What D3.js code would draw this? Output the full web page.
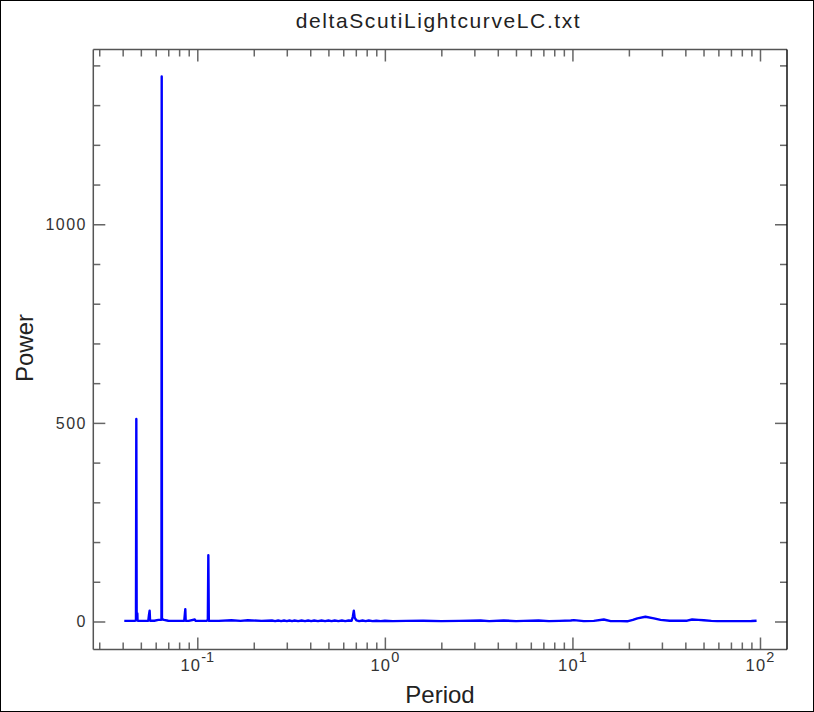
<!DOCTYPE html>
<html>
<head>
<meta charset="utf-8">
<script src="https://cdn.jsdelivr.net/npm/d3@7"></script>
<style>
html,body{margin:0;padding:0;background:#fff;}
svg{display:block;}
text{font-family:"Liberation Sans",Arial,Helvetica,sans-serif;}
</style>
</head>
<body>
<script>
// ---- Data ----
const title = "deltaScutiLightcurveLC.txt";
const xLabel = "Period";
const yLabel = "Power";

const periods = [
  0.0408, 0.0440, 0.0466, 0.0471, 0.0473, 0.0475, 0.0479, 0.0480, 0.0482, 0.0510,
  0.0548, 0.0553, 0.0557, 0.0560, 0.0590, 0.0620, 0.0640, 0.0644, 0.0646, 0.0648, 0.0655, 0.0665, 0.0700, 0.0780,
  0.0852, 0.0858, 0.0863, 0.0867, 0.0900, 0.0970, 0.0980, 0.1000, 0.1120, 0.1138, 0.1145, 0.1152, 0.1300, 0.1520, 0.1700, 0.1860, 0.2200,
  0.2500, 0.2600, 0.2700, 0.2800, 0.2900, 0.3000, 0.3100, 0.3200, 0.3300, 0.3450, 0.3600, 0.3750, 0.3900, 0.4050, 0.4200, 0.4400, 0.4600, 0.4800, 0.5000, 0.5200, 0.5400, 0.5650, 0.5900, 0.6150, 0.6400, 0.6650, 0.6750, 0.6830, 0.6900, 0.7050, 0.7300, 0.7600, 0.7900, 0.8200, 0.8600, 0.9000, 0.9500, 1.0000, 1.1000,
  1.3, 1.6, 2.0, 2.5, 3.24, 3.6, 4.3, 5.0, 5.5, 6.6, 7.5, 8.5, 9.8, 10.18, 11.5, 13.0, 14.7, 16.0, 18.0, 19.6, 21.0, 22.2, 24.5, 27.2, 29.5, 33.0, 37.0, 40.9, 43.5, 47.0, 50.2, 55.0, 59.2, 70.0, 80.0, 90.0, 95.9
];
const powers = [
  1.5, 1.5, 2, 3, 510, 3, 20, 3, 2, 1.5,
  2, 18, 27, 2, 2, 4, 4, 6, 1372, 5, 5, 4, 2, 1.5,
  2, 18, 31, 2, 1.5, 5, 1.5, 1.5, 2, 4, 167, 2, 1.5, 3, 1.5, 3, 1.5,
  2.5, 1, 2.5, 1, 2.5, 1, 2.5, 1, 2.5, 1, 2.5, 1, 2.5, 1, 2.5, 1, 2.5, 1, 2.5, 1, 2.5, 1, 2.5, 1, 2.5, 2, 12, 27, 10, 3, 1, 2.5, 1, 2.5, 1, 2, 1, 2, 1,
  1.5, 2, 1, 1.5, 2.5, 1, 2.5, 1, 1.5, 2.5, 1, 1.5, 2.5, 3.5, 1, 1.5, 5, 1, 1, 0.5, 4, 8, 12, 8, 4, 2, 2, 2, 5, 4, 3, 1.5, 1, 1, 1, 1.2, 2
];

const xMajorTicks = [0.1, 1, 10, 100];
const xMajorExp = ["-1", "0", "1", "2"];
const yMajorTicks = [0, 500, 1000];
const yMinorTicks = [0, 100, 200, 300, 400, 500, 600, 700, 800, 900, 1000, 1100, 1200, 1300, 1400];

// ---- Layout ----
const W = 814, H = 712;
const L = 93.3, R = 787, T = 49.5, B = 649.5;

const svg = d3.select("body").append("svg").attr("width", W).attr("height", H);

// outer border
svg.append("rect").attr("x", 0.5).attr("y", 0.5).attr("width", W - 1).attr("height", H - 1)
  .attr("fill", "#fff").attr("stroke", "#000").attr("stroke-width", 1);

const x = d3.scaleLog().domain([Math.pow(10, -1.5545), Math.pow(10, 2.144)]).range([L, R]);
const y = d3.scaleLinear().domain([-70.5, 1440]).range([B, T]);

// minor x ticks
const xMinor = [];
[0.01, 0.1, 1, 10].forEach(d => { for (let k = 2; k <= 9; k++) { const v = d * k; if (v >= x.domain()[0] && v <= x.domain()[1]) xMinor.push(v); } });

const tickColor = "#666";
const gAx = svg.append("g");

function styleAxis(g) {
  g.select(".domain").remove();
  g.selectAll(".tick line").attr("stroke", tickColor).attr("stroke-width", 1.5);
  g.selectAll(".tick text").remove();
}

const yMinorOnly = yMinorTicks.filter(v => !yMajorTicks.includes(v));
// bottom
gAx.append("g").attr("transform", `translate(0,${B})`).call(d3.axisBottom(x).tickValues(xMajorTicks).tickSize(-12).tickFormat("")).call(styleAxis);
gAx.append("g").attr("transform", `translate(0,${B})`).call(d3.axisBottom(x).tickValues(xMinor).tickSize(-7).tickFormat("")).call(styleAxis);
// top
gAx.append("g").attr("transform", `translate(0,${T})`).call(d3.axisTop(x).tickValues(xMajorTicks).tickSize(-12).tickFormat("")).call(styleAxis);
gAx.append("g").attr("transform", `translate(0,${T})`).call(d3.axisTop(x).tickValues(xMinor).tickSize(-7).tickFormat("")).call(styleAxis);
// left
gAx.append("g").attr("transform", `translate(${L},0)`).call(d3.axisLeft(y).tickValues(yMajorTicks).tickSize(-12).tickFormat("")).call(styleAxis);
gAx.append("g").attr("transform", `translate(${L},0)`).call(d3.axisLeft(y).tickValues(yMinorOnly).tickSize(-7).tickFormat("")).call(styleAxis);
// right
gAx.append("g").attr("transform", `translate(${R},0)`).call(d3.axisRight(y).tickValues(yMajorTicks).tickSize(-12).tickFormat("")).call(styleAxis);
gAx.append("g").attr("transform", `translate(${R},0)`).call(d3.axisRight(y).tickValues(yMinorOnly).tickSize(-7).tickFormat("")).call(styleAxis);

// frame
svg.append("line").attr("x1", L).attr("x2", R).attr("y1", T).attr("y2", T).attr("stroke", "#555").attr("stroke-width", 1.5);
svg.append("line").attr("x1", L).attr("x2", R).attr("y1", B).attr("y2", B).attr("stroke", "#555").attr("stroke-width", 1.5);
svg.append("line").attr("x1", L).attr("x2", L).attr("y1", T).attr("y2", B).attr("stroke", "#555").attr("stroke-width", 1.5);
svg.append("line").attr("x1", R).attr("x2", R).attr("y1", T).attr("y2", B).attr("stroke", "#111").attr("stroke-width", 1.5);

// data line
const data = periods.map((p, i) => [p, powers[i]]);
svg.append("path").datum(data)
  .attr("fill", "none").attr("stroke", "#0000ff").attr("stroke-width", 2.4)
  .attr("stroke-linejoin", "round").attr("stroke-linecap", "butt")
  .attr("d", d3.line().x(d => x(d[0])).y(d => y(d[1])));

// y tick labels
svg.append("g").selectAll("text").data(yMajorTicks).join("text")
  .attr("x", 87).attr("y", d => y(d)).attr("dy", "0.36em")
  .attr("text-anchor", "end").attr("font-size", 16).attr("letter-spacing", 1.5)
  .attr("fill", "#333").text(d => d);

// x tick labels with superscripts
const xl = svg.append("g").selectAll("text").data(xMajorTicks).join("text")
  .attr("x", d => x(d)).attr("y", 671).attr("text-anchor", "middle").attr("fill", "#333");
xl.append("tspan").attr("font-size", 16.5).attr("letter-spacing", 1.2).text("10");
xl.append("tspan").attr("font-size", 14.5).attr("dy", -9).text((d, i) => xMajorExp[i]);

// title and axis labels
svg.append("text").attr("x", 438.5).attr("y", 28).attr("text-anchor", "middle")
  .attr("font-size", 21).attr("letter-spacing", 1.6).attr("fill", "#222").text(title);
svg.append("text").attr("x", 440).attr("y", 703).attr("text-anchor", "middle")
  .attr("font-size", 24).attr("fill", "#222").text(xLabel);
svg.append("text").attr("transform", "translate(33,348) rotate(-90)").attr("text-anchor", "middle")
  .attr("font-size", 24).attr("fill", "#222").text(yLabel);
</script>
</body>
</html>
